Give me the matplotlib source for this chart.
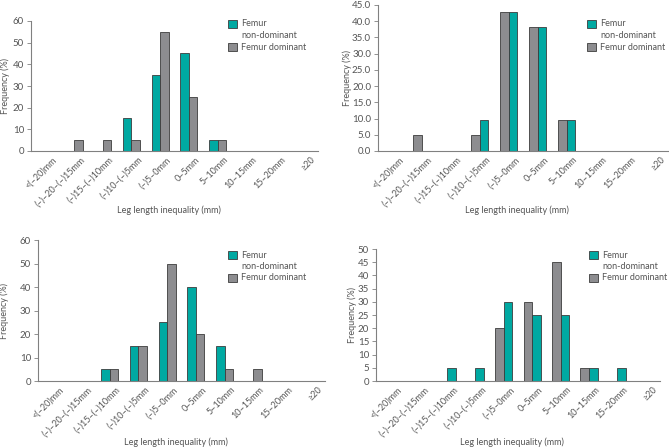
import numpy as np
import matplotlib.pyplot as plt
from matplotlib.patches import Rectangle

plt.rcParams['font.family'] = ['Lato', 'DejaVu Sans']

categories = ["<(\u201320)mm", "(\u2013)\u201320\u2013(\u2013)15mm", "(\u2013)15\u2013(\u2013)10mm",
              "(\u2013)10\u2013(\u2013)5mm", "(\u2013)5\u20130mm", "0\u20135mm", "5\u201310mm",
              "10\u201315mm", "15\u201320mm", "\u226520"]

# frequencies (%) per panel
nondom_1 = [0, 0, 0, 15, 35, 45, 5, 0, 0, 0]
dom_1 = [0, 5, 5, 5, 55, 25, 5, 0, 0, 0]

nondom_2 = [0, 0, 0, 9.5, 42.9, 38.1, 9.5, 0, 0, 0]
dom_2 = [0, 4.8, 0, 4.8, 42.9, 38.1, 9.5, 0, 0, 0]

nondom_3 = [0, 0, 5, 15, 25, 40, 15, 0, 0, 0]
dom_3 = [0, 0, 5, 15, 50, 20, 5, 5, 0, 0]

nondom_4 = [0, 0, 5, 5, 30, 25, 25, 5, 5, 0]
dom_4 = [0, 0, 0, 0, 20, 30, 45, 5, 0, 0]

teal = "#00a9a2"
grey = "#8d8d90"
edge = "#3c3c3c"
txt = "#555555"
axcol = "#808080"
fs = 6.5

W, H = 669, 448
fig = plt.figure(figsize=(W / 100, H / 100), dpi=100)


def px_axes(l, r, t, b):
    return fig.add_axes([l / W, 1 - b / H, (r - l) / W, (b - t) / H])


def legend(x, y):
    # x, y: top-left of first square in pixels
    for i, (col, lab) in enumerate([(teal, "Femur"), (grey, "Femur dominant")]):
        yy = y + i * 23
        fig.add_artist(Rectangle((x / W, 1 - (yy + 8) / H), 9 / W, 8 / H,
                                 transform=fig.transFigure, facecolor=col,
                                 edgecolor=edge, linewidth=0.6))
        fig.text((x + 13) / W, 1 - (yy + 4) / H, lab, fontsize=fs, color=txt, va="center")
    fig.text((x + 13) / W, 1 - (y + 15.5) / H, "non-dominant", fontsize=fs, color=txt, va="center")


def panel(ax, nondom, dom, ymax, ystep, fmt, grey_first, ylab_x, xlab_y):
    x = np.arange(len(categories))
    w = 0.3
    if grey_first:
        ax.bar(x - w / 2, dom, w, color=grey, edgecolor=edge, linewidth=0.6)
        ax.bar(x + w / 2, nondom, w, color=teal, edgecolor=edge, linewidth=0.6)
    else:
        ax.bar(x - w / 2, nondom, w, color=teal, edgecolor=edge, linewidth=0.6)
        ax.bar(x + w / 2, dom, w, color=grey, edgecolor=edge, linewidth=0.6)
    ax.set_xlim(-0.5, len(categories) - 0.5)
    ax.set_ylim(0, ymax)
    ticks = np.arange(0, ymax + 0.01, ystep)
    ax.set_yticks(ticks)
    ax.set_yticklabels([fmt % t for t in ticks])
    ax.set_xticks(x + 0.22)
    ax.set_xticklabels(categories, rotation=45, ha="right", va="top", rotation_mode="anchor")
    ax.tick_params(axis="x", length=0, pad=3, labelsize=fs, labelcolor=txt)
    ax.tick_params(axis="y", length=3, width=0.6, color=axcol, pad=2, labelsize=7, labelcolor=txt)
    for s in ["top", "right"]:
        ax.spines[s].set_visible(False)
    for s in ["left", "bottom"]:
        ax.spines[s].set_color(axcol)
        ax.spines[s].set_linewidth(0.8)
    ax.set_ylabel("Frequency (%)", fontsize=fs, color=txt)
    ax.yaxis.set_label_coords(ylab_x, 0.5)
    ax.set_xlabel("Leg length inequality (mm)", fontsize=fs, color=txt)
    ax.xaxis.set_label_coords(0.48, xlab_y)


ax1 = px_axes(31, 318, 21, 151)
panel(ax1, nondom_1, dom_1, 60, 10, "%d", False, -0.073, -0.42)
legend(228, 20)

ax2 = px_axes(378, 668, 5, 151)
panel(ax2, nondom_2, dom_2, 45, 5, "%.1f", True, -0.09, -0.375)
legend(587, 20)

ax3 = px_axes(38, 325, 240, 381)
panel(ax3, nondom_3, dom_3, 60, 10, "%d", False, -0.10, -0.40)
legend(228, 251)

ax4 = px_axes(376, 660, 249, 381)
panel(ax4, nondom_4, dom_4, 50, 5, "%d", True, -0.067, -0.43)
legend(589, 251)

fig.savefig("out.png", dpi=100)
